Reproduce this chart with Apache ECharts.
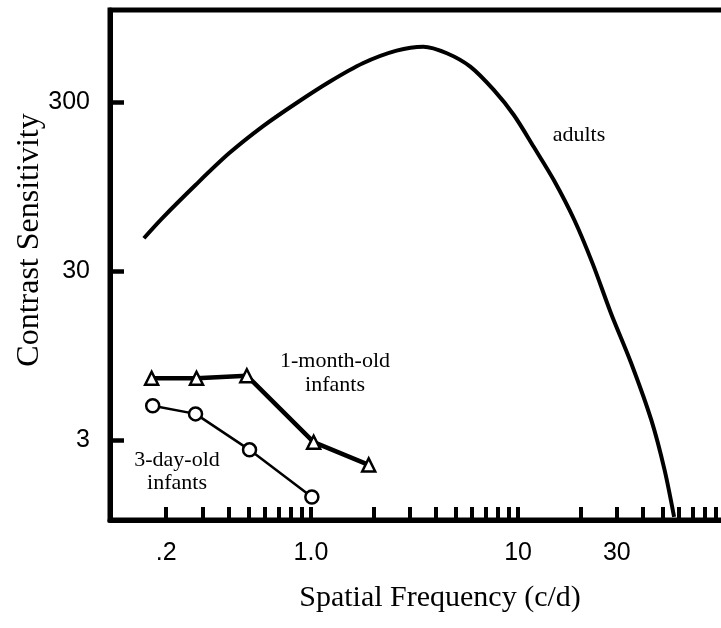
<!DOCTYPE html>
<html>
<head>
<meta charset="utf-8">
<script src="https://cdn.jsdelivr.net/npm/echarts@6/dist/echarts.min.js"></script>
<style>
  html, body { margin: 0; padding: 0; background: #fff; }
  #chart { width: 721px; height: 628px; }
</style>
</head>
<body>
<div id="chart"></div>
<script>
// Adults contrast sensitivity function
const adultsFreq = [0.156, 0.191, 0.277, 0.402, 0.583, 0.848, 1.23, 1.78, 2.59, 3.49, 4.53, 5.88, 7.63, 9.54, 11.9, 14.9, 18.7, 22.9, 28.1, 35.2, 44.0, 51.0, 56.7];
const adultsSens = [47.2, 61.9, 97.5, 150, 216, 297, 398, 512, 608, 642, 587, 489, 356, 253, 164, 104, 60.5, 33.5, 17.0, 8.6, 3.97, 2.01, 1.06];

// 1-month-old infants (triangles)
const monthFreq = [0.17, 0.28, 0.49, 1.03, 1.9];
const monthSens = [7.0, 7.0, 7.25, 2.93, 2.15];

// 3-day-old infants (circles)
const dayFreq = [0.172, 0.277, 0.505, 1.01];
const daySens = [4.82, 4.31, 2.64, 1.39];

// Axis ticks and labels
const xTickValues = [0.2, 0.3, 0.4, 0.5, 0.6, 0.7, 0.8, 0.9, 1, 2, 3, 4, 5, 6, 7, 8, 9, 10, 20, 30, 40, 50, 60, 70, 80, 90, 100];
const xLabelValues = [0.2, 1, 10, 30];
const xLabelTexts = ['.2', '1.0', '10', '30'];
const yTickValues = [3, 30, 300];
const yLabelValues = [3, 30, 300];
const yLabelTexts = ['3', '30', '300'];

const xTitle = 'Spatial Frequency (c/d)';
const yTitle = 'Contrast Sensitivity';
const adultsLabel = 'adults';
const monthLabel = '1-month-old\ninfants';
const dayLabel = '3-day-old\ninfants';

function pairs(xs, ys) { return xs.map((x, i) => [x, ys[i]]); }
function labelFor(values, texts, v) {
  for (let i = 0; i < values.length; i++) {
    if (Math.abs(values[i] - v) / values[i] < 1e-6) return texts[i];
  }
  return '';
}

const SANS = "'Liberation Sans Narrow', 'Arial Narrow', 'Liberation Sans', Arial, sans-serif";
const SERIF = "'Liberation Serif', 'Times New Roman', serif";

const chart = echarts.init(document.getElementById('chart'), null, { renderer: 'canvas' });
chart.setOption({
  animation: false,
  backgroundColor: '#fff',
  grid: {
    left: 110, right: -5, top: 10, bottom: 108,
    outerBoundsMode: 'none', containLabel: false,
    show: true, borderColor: '#000', borderWidth: 5, backgroundColor: 'transparent'
  },
  xAxis: {
    type: 'log', logBase: 10, min: 0.107, max: 101,
    name: xTitle, nameLocation: 'middle', nameGap: 63,
    nameTextStyle: { fontFamily: SERIF, fontSize: 30, color: '#000', padding: [0, 0, 0, 44] },
    axisLine: { show: true, lineStyle: { color: '#000', width: 5 } },
    axisTick: { show: true, inside: true, length: 13, customValues: xTickValues, lineStyle: { color: '#000', width: 4 } },
    minorTick: { show: false },
    axisLabel: {
      show: true, customValues: xLabelValues, margin: 21,
      fontFamily: SANS, fontSize: 25, color: '#000',
      formatter: v => labelFor(xLabelValues, xLabelTexts, v)
    },
    splitLine: { show: false }
  },
  yAxis: {
    type: 'log', logBase: 10, min: 1.015, max: 1058,
    name: yTitle, nameLocation: 'middle', nameGap: 64, nameRotate: 90, nameMoveOverlap: false,
    nameTextStyle: { fontFamily: SERIF, fontSize: 32, color: '#000', padding: [0, 0, 0, 50] },
    axisLine: { show: true, lineStyle: { color: '#000', width: 5 } },
    axisTick: { show: true, inside: true, length: 14, customValues: yTickValues, lineStyle: { color: '#000', width: 4.5 } },
    minorTick: { show: false },
    axisLabel: {
      show: true, customValues: yLabelValues, margin: 20,
      fontFamily: SANS, fontSize: 25, color: '#000',
      formatter: v => labelFor(yLabelValues, yLabelTexts, v)
    },
    splitLine: { show: false }
  },
  series: [
    {
      name: 'adults', type: 'line', data: pairs(adultsFreq, adultsSens),
      smooth: 0.3, showSymbol: false, symbol: 'none',
      lineStyle: { color: '#000', width: 4 }, clip: true, z: 3
    },
    {
      name: '1-month-old infants', type: 'line', data: pairs(monthFreq, monthSens),
      symbol: 'triangle', symbolSize: 13, showSymbol: true,
      lineStyle: { color: '#000', width: 4.5 },
      itemStyle: { color: '#fff', borderColor: '#000', borderWidth: 2.5 }, z: 4
    },
    {
      name: '3-day-old infants', type: 'line', data: pairs(dayFreq, daySens),
      symbol: 'circle', symbolSize: 13, showSymbol: true,
      lineStyle: { color: '#000', width: 2.5 },
      itemStyle: { color: '#fff', borderColor: '#000', borderWidth: 2.5 }, z: 4
    }
  ],
  graphic: [
    { type: 'text', x: 579, y: 135, style: { text: adultsLabel, font: '22px ' + SERIF, fill: '#000', align: 'center', verticalAlign: 'middle' } },
    { type: 'text', x: 335, y: 373, style: { text: monthLabel, font: '22px ' + SERIF, fill: '#000', align: 'center', verticalAlign: 'middle', lineHeight: 24 } },
    { type: 'text', x: 177, y: 472, style: { text: dayLabel, font: '22px ' + SERIF, fill: '#000', align: 'center', verticalAlign: 'middle', lineHeight: 23 } }
  ]
});
</script>
</body>
</html>
